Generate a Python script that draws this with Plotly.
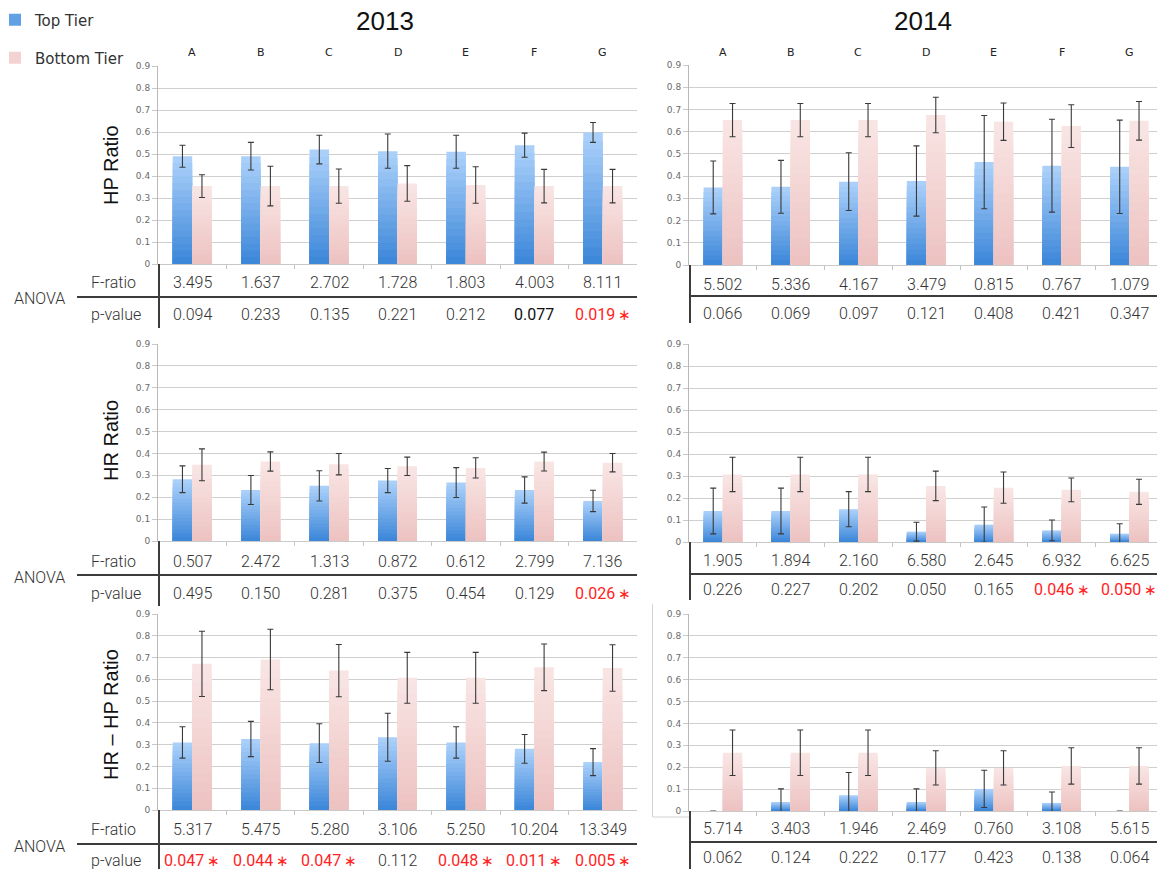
import plotly.graph_objects as go

W, H = 1157, 869

categories = ["A", "B", "C", "D", "E", "F", "G"]
series_names = ["Top Tier", "Bottom Tier"]

# ---- HP Ratio ----
hp13_top = [0.49, 0.49, 0.52, 0.513, 0.51, 0.54, 0.598]
hp13_top_err = [0.05, 0.063, 0.065, 0.078, 0.075, 0.055, 0.045]
hp13_bot = [0.354, 0.354, 0.354, 0.366, 0.359, 0.354, 0.354]
hp13_bot_err = [0.052, 0.09, 0.078, 0.081, 0.083, 0.076, 0.076]
hp13_f = ["3.495", "1.637", "2.702", "1.728", "1.803", "4.003", "8.111"]
hp13_p = ["0.094", "0.233", "0.135", "0.221", "0.212", "0.077", "0.019"]
hp13_sig = [False, False, False, False, False, False, True]

hp14_top = [0.349, 0.352, 0.375, 0.378, 0.463, 0.447, 0.442]
hp14_top_err = [0.119, 0.119, 0.13, 0.158, 0.21, 0.209, 0.21]
hp14_bot = [0.652, 0.652, 0.652, 0.675, 0.645, 0.625, 0.649]
hp14_bot_err = [0.075, 0.075, 0.075, 0.08, 0.084, 0.096, 0.087]
hp14_f = ["5.502", "5.336", "4.167", "3.479", "0.815", "0.767", "1.079"]
hp14_p = ["0.066", "0.069", "0.097", "0.121", "0.408", "0.421", "0.347"]
hp14_sig = [False] * 7

# ---- HR Ratio ----
hr13_top = [0.282, 0.233, 0.252, 0.276, 0.267, 0.233, 0.183]
hr13_top_err = [0.061, 0.066, 0.069, 0.055, 0.068, 0.06, 0.049]
hr13_bot = [0.348, 0.363, 0.351, 0.341, 0.334, 0.363, 0.358]
hr13_bot_err = [0.073, 0.044, 0.049, 0.042, 0.046, 0.043, 0.042]
hr13_f = ["0.507", "2.472", "1.313", "0.872", "0.612", "2.799", "7.136"]
hr13_p = ["0.495", "0.150", "0.281", "0.375", "0.454", "0.129", "0.026"]
hr13_sig = [False, False, False, False, False, False, True]

hr14_top = [0.141, 0.141, 0.149, 0.047, 0.079, 0.053, 0.038]
hr14_top_err = [0.104, 0.104, 0.08, 0.043, 0.08, 0.047, 0.045]
hr14_bot = [0.307, 0.307, 0.307, 0.255, 0.247, 0.237, 0.228]
hr14_bot_err = [0.078, 0.078, 0.078, 0.067, 0.071, 0.054, 0.057]
hr14_f = ["1.905", "1.894", "2.160", "6.580", "2.645", "6.932", "6.625"]
hr14_p = ["0.226", "0.227", "0.202", "0.050", "0.165", "0.046", "0.050"]
hr14_sig = [False, False, False, False, False, True, True]

# ---- HR - HP Ratio ----
hrhp13_top = [0.31, 0.326, 0.307, 0.334, 0.31, 0.281, 0.22]
hrhp13_top_err = [0.072, 0.081, 0.089, 0.11, 0.072, 0.066, 0.062]
hrhp13_bot = [0.671, 0.691, 0.64, 0.607, 0.607, 0.655, 0.652]
hrhp13_bot_err = [0.15, 0.139, 0.12, 0.117, 0.117, 0.107, 0.107]
hrhp13_f = ["5.317", "5.475", "5.280", "3.106", "5.250", "10.204", "13.349"]
hrhp13_p = ["0.047", "0.044", "0.047", "0.112", "0.048", "0.011", "0.005"]
hrhp13_sig = [True, True, True, False, True, True, True]

hrhp14_top = [0.0, 0.041, 0.072, 0.041, 0.101, 0.037, 0.0]
hrhp14_top_err = [0.0, 0.06, 0.104, 0.06, 0.085, 0.05, 0.0]
hrhp14_bot = [0.266, 0.266, 0.266, 0.197, 0.197, 0.206, 0.206]
hrhp14_bot_err = [0.104, 0.104, 0.104, 0.078, 0.078, 0.083, 0.083]
hrhp14_f = ["5.714", "3.403", "1.946", "2.469", "0.760", "3.108", "5.615"]
hrhp14_p = ["0.062", "0.124", "0.222", "0.177", "0.423", "0.138", "0.064"]
hrhp14_sig = [False] * 7

years = ["2013", "2014"]
y_titles = ["HP Ratio", "HR Ratio", "HR \u2013 HP Ratio"]
row_labels = ["F-ratio", "p-value"]
group_label = "ANOVA"
y_ticks = [0, 0.1, 0.2, 0.3, 0.4, 0.5, 0.6, 0.7, 0.8, 0.9]
y_ticktext = ["0", "0.1", "0.2", "0.3", "0.4", "0.5", "0.6", "0.7", "0.8", "0.9"]


def xp(p):
    return p / W


def yp(p):
    return 1 - p / H


# layout geometry (pixels)
LEFT = dict(x0=158, x1=637, cw=(637 - 158) / 7)
RIGHT = dict(x0=689, x1=1157, cw=67.75)

panels = [
    dict(top=hp13_top, te=hp13_top_err, bot=hp13_bot, be=hp13_bot_err, f=hp13_f, p=hp13_p, sig=hp13_sig,
         side=LEFT, yt=66, yb=264, frow=283, line=297, prow=314, vl=(264, 328), ytitle=0, ycen=165, anova=298),
    dict(top=hr13_top, te=hr13_top_err, bot=hr13_bot, be=hr13_bot_err, f=hr13_f, p=hr13_p, sig=hr13_sig,
         side=LEFT, yt=344, yb=541, frow=561, line=575, prow=593, vl=(541, 606), ytitle=1, ycen=441, anova=577),
    dict(top=hrhp13_top, te=hrhp13_top_err, bot=hrhp13_bot, be=hrhp13_bot_err, f=hrhp13_f, p=hrhp13_p, sig=hrhp13_sig,
         side=LEFT, yt=614, yb=810, frow=829, line=844, prow=860, vl=(810, 869), ytitle=2, ycen=715, anova=846),
    dict(top=hp14_top, te=hp14_top_err, bot=hp14_bot, be=hp14_bot_err, f=hp14_f, p=hp14_p, sig=hp14_sig,
         side=RIGHT, yt=65, yb=265, frow=284, line=296, prow=313, vl=(265, 323)),
    dict(top=hr14_top, te=hr14_top_err, bot=hr14_bot, be=hr14_bot_err, f=hr14_f, p=hr14_p, sig=hr14_sig,
         side=RIGHT, yt=344, yb=542, frow=560, line=574, prow=589, vl=(542, 600)),
    dict(top=hrhp14_top, te=hrhp14_top_err, bot=hrhp14_bot, be=hrhp14_bot_err, f=hrhp14_f, p=hrhp14_p, sig=hrhp14_sig,
         side=RIGHT, yt=614, yb=811, frow=828, line=842, prow=857, vl=(811, 869)),
]

NSEG = 16
BLUE_BOT, BLUE_TOP = (62, 136, 218), (170, 208, 249)
PINK_BOT, PINK_TOP = (237, 195, 194), (248, 229, 227)
BAR_W = 0.285
TABLE_FONT = dict(family="Roboto", size=16, color="#333333", weight=300)
TICK_FONT = dict(family="DejaVu Sans", size=9, color="#6a6a6a")


def mix(a, b, t):
    return "rgb(%d,%d,%d)" % tuple(round(a[i] + (b[i] - a[i]) * t) for i in range(3))


fig = go.Figure()
layout = dict(
    width=W, height=H, margin=dict(l=0, r=0, t=0, b=0, pad=0, autoexpand=False),
    paper_bgcolor="white", plot_bgcolor="white",
    barmode="overlay", showlegend=True,
    annotations=[], shapes=[],
)

for i, pn in enumerate(panels, start=1):
    xs = "x" if i == 1 else f"x{i}"
    ys = "y" if i == 1 else f"y{i}"
    xa = "xaxis" if i == 1 else f"xaxis{i}"
    ya = "yaxis" if i == 1 else f"yaxis{i}"
    sd = pn["side"]
    xmax = -0.5 + (sd["x1"] - sd["x0"]) / sd["cw"]
    layout[xa] = dict(
        domain=[xp(sd["x0"]), xp(sd["x1"])], anchor=ys, range=[-0.5, xmax],
        type="category", tickmode="array", tickvals=[0.5 + k for k in range(6)],
        showticklabels=False, ticks="outside", ticklen=4, tickcolor="#c4c4c4",
        showgrid=False, showline=True, linecolor="#c9c9c9", linewidth=1, zeroline=False,
        fixedrange=True, automargin=False,
    )
    layout[ya] = dict(
        domain=[yp(pn["yb"]), yp(pn["yt"])], anchor=xs, range=[0, 0.9],
        tickmode="array", tickvals=y_ticks, ticktext=y_ticktext, tickfont=TICK_FONT,
        ticks="outside", ticklen=5, tickcolor="#c9c9c9",
        showgrid=True, gridcolor="#cfcfcf", gridwidth=1,
        showline=True, linecolor="#b8b8b8", linewidth=1, zeroline=False, fixedrange=True,
        automargin=False,
    )

    for s, (vals, errs, cb, ct, off) in enumerate([
        (pn["top"], pn["te"], BLUE_BOT, BLUE_TOP, -BAR_W),
        (pn["bot"], pn["be"], PINK_BOT, PINK_TOP, 0.0),
    ]):
        # vertical gradient: overlapping bars, tallest (lightest) first
        for k in range(NSEG):
            frac = 1 - k / NSEG
            t = 1 - k / (NSEG - 1)
            show_leg = (i == 1 and k == (NSEG * 2 // 3 if s == 0 else NSEG // 2))
            fig.add_trace(go.Bar(
                x=categories, y=[v * frac for v in vals],
                offset=off, width=BAR_W, marker=dict(color=mix(cb, ct, t), line=dict(width=0)),
                xaxis=xs, yaxis=ys, name=series_names[s], showlegend=show_leg,
                legend="legend" if s == 0 else "legend2", hoverinfo="skip",
            ))
        # error bars on a transparent full-height bar drawn on top
        fig.add_trace(go.Bar(
            x=categories, y=vals, offset=off, width=BAR_W,
            marker=dict(color="rgba(0,0,0,0)", line=dict(width=0)),
            xaxis=xs, yaxis=ys, showlegend=False, hoverinfo="skip",
            error_y=dict(type="data", array=errs, symmetric=True, color="#3a3a3a",
                         thickness=1.1, width=3),
        ))

    # table values
    for c in range(len(categories)):
        layout["annotations"].append(dict(
            x=categories[c], xref=xs, y=yp(pn["frow"]), yref="paper", text=pn["f"][c],
            showarrow=False, font=TABLE_FONT, xanchor="center", yanchor="middle"))
        if pn["sig"][c]:
            txt = pn["p"][c] + "<span style='font-size:15px'>\u2009\u2217</span>"
            fnt = dict(TABLE_FONT, color="#ff2323", weight=400)
        else:
            txt = pn["p"][c]
            fnt = TABLE_FONT
        if i == 1 and c == 5:
            fnt = dict(TABLE_FONT, color="#111111", weight=400)
        layout["annotations"].append(dict(
            x=categories[c], xref=xs, y=yp(pn["prow"]), yref="paper", text=txt,
            showarrow=False, font=fnt, xanchor="center", yanchor="middle"))

    # table rules
    hx0 = 77 if sd is LEFT else sd["x0"]
    layout["shapes"].append(dict(type="line", xref="paper", yref="paper",
                                 x0=xp(hx0), x1=xp(sd["x1"]), y0=yp(pn["line"]), y1=yp(pn["line"]),
                                 line=dict(color="#3c3c3c", width=2)))
    layout["shapes"].append(dict(type="line", xref="paper", yref="paper",
                                 x0=xp(sd["x0"] + 1), x1=xp(sd["x0"] + 1), y0=yp(pn["vl"][0]), y1=yp(pn["vl"][1]),
                                 line=dict(color="#3c3c3c", width=2)))

    if sd is LEFT:
        layout["annotations"].append(dict(
            x=xp(89), y=yp(pn["frow"]), xref="paper", yref="paper", text=row_labels[0],
            showarrow=False, font=TABLE_FONT, xanchor="left", yanchor="middle"))
        layout["annotations"].append(dict(
            x=xp(89), y=yp(pn["prow"]), xref="paper", yref="paper", text=row_labels[1],
            showarrow=False, font=TABLE_FONT, xanchor="left", yanchor="middle"))
        layout["annotations"].append(dict(
            x=xp(39), y=yp(pn["anova"]), xref="paper", yref="paper", text=group_label,
            showarrow=False, font=TABLE_FONT, xanchor="center", yanchor="middle"))
        layout["annotations"].append(dict(
            x=xp(111), y=yp(pn["ycen"]), xref="paper", yref="paper", text=y_titles[pn["ytitle"]],
            textangle=-90, showarrow=False,
            font=dict(family="Liberation Sans", size=20, color="#111111"),
            xanchor="center", yanchor="middle"))

    # category letters above the top row of charts
    if i in (1, 4):
        for c in range(len(categories)):
            layout["annotations"].append(dict(
                x=categories[c], xref=xs, y=yp(52), yref="paper", text=categories[c],
                showarrow=False, font=dict(family="DejaVu Sans", size=11, color="#222222"),
                xanchor="center", yanchor="middle"))

# year titles
for yr, cx in zip(years, [385, 923]):
    layout["annotations"].append(dict(
        x=xp(cx), y=yp(21), xref="paper", yref="paper", text=yr, showarrow=False,
        font=dict(family="Liberation Sans", size=26, color="#111111"),
        xanchor="center", yanchor="middle"))

# faint chart frame around the lower-right chart
layout["shapes"].append(dict(type="line", xref="paper", yref="paper",
                             x0=xp(652.5), x1=xp(652.5), y0=yp(604), y1=yp(817),
                             line=dict(color="#d2d2d2", width=1)))
layout["shapes"].append(dict(type="line", xref="paper", yref="paper",
                             x0=xp(652.5), x1=xp(689), y0=yp(817), y1=yp(817),
                             line=dict(color="#d2d2d2", width=1)))

leg_font = dict(family="DejaVu Sans", size=15, color="#333333")
layout["legend"] = dict(x=xp(-5), y=yp(20), xanchor="left", yanchor="middle", font=leg_font,
                        bgcolor="rgba(0,0,0,0)", itemwidth=30, itemclick=False)
layout["legend2"] = dict(x=xp(-5), y=yp(58), xanchor="left", yanchor="middle", font=leg_font,
                         bgcolor="rgba(0,0,0,0)", itemwidth=30, itemclick=False)

fig.update_layout(**layout)
fig.write_html(
    "out.html",
    config={"displayModeBar": False},
    post_script="document.body.style.margin='0';document.body.style.padding='0';"
                "document.body.style.overflow='hidden';",
)
